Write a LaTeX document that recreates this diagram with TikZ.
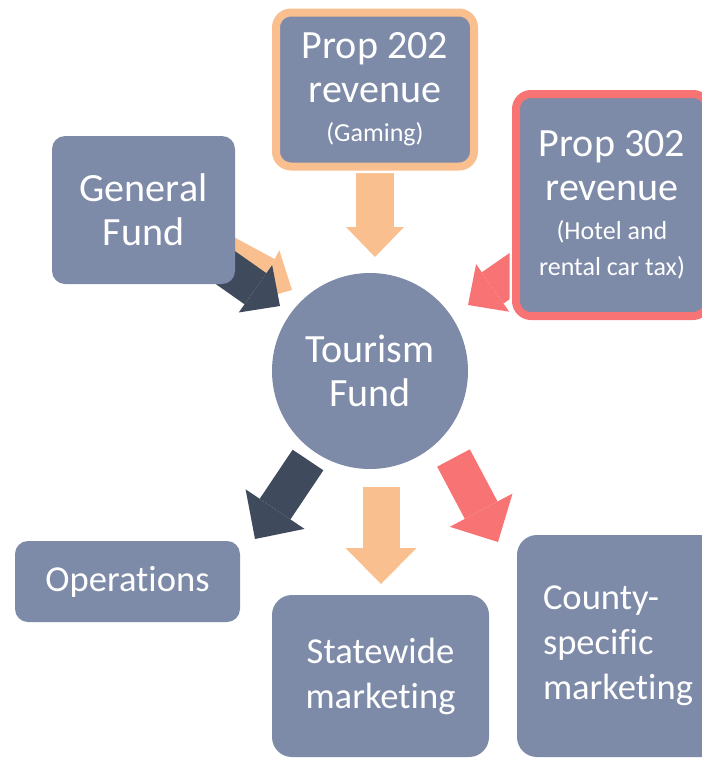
\documentclass[tikz,border=0pt]{standalone}
\usepackage{fontspec}
\setmainfont{Carlito}[Ligatures=NoCommon]
\usetikzlibrary{arrows.meta,backgrounds}

\definecolor{slate}{HTML}{7D8AA8}
\definecolor{darkslate}{HTML}{3F4A5C}
\definecolor{peach}{HTML}{F9BF8E}
\definecolor{coral}{HTML}{F87373}

\newcommand{\fundbig}{\fontsize{22.8}{25}\selectfont}
\newcommand{\fundmid}{\fontsize{20.8}{25.6}\selectfont}
\newcommand{\fundsmall}{\fontsize{14.8}{20.5}\selectfont}

\begin{document}
\begin{tikzpicture}[font=\fundbig,
  fundbox/.style={fill=slate,text=white,align=center,inner sep=0pt,rounded corners=#1},
  fundbox/.default=0.26cm,
  propbox/.style={fundbox=0.3cm,draw=#1,line width=0.16cm,preaction={draw=white,line width=0.26cm}},
  inflow/.style={draw=#1,line width=0.76cm,-{Triangle[width=1.16cm,length=0.6cm,line width=0pt]}},
  outflow/.style={draw=#1,line width=0.74cm,-{Triangle[width=1.42cm,length=0.72cm,line width=0pt]}}]
\useasboundingbox (0,0) rectangle (14.04,-15.18);
\clip (0,0) rectangle (14.04,-15.18);
% sources
\node[fundbox,minimum width=3.66cm,minimum height=2.96cm] (gen) at (2.87,-4.20) {General\\Fund};
\node[propbox=peach,minimum width=3.96cm,minimum height=3.08cm] (p202) at (7.50,-1.79) {Prop 202\\revenue\\[-2.8pt]{\fundsmall (Gaming)}};
\node[propbox=coral,minimum width=3.84cm,minimum height=4.44cm] (p302) at (12.24,-4.10) {Prop 302\\revenue\\[-2.8pt]{\fundsmall (Hotel and}\\[-4.5pt]{\fundsmall rental car tax)}};
\node[fundbox,circle,minimum size=3.92cm] (tf) at (7.40,-7.42) {Tourism\\Fund};
% uses
\node[fundbox,font=\fundmid,minimum width=4.5cm,minimum height=1.62cm] (ops) at (2.55,-11.63) {Operations};
\node[fundbox=0.4cm,font=\fundmid,minimum width=4.34cm,minimum height=3.24cm] (sw) at (7.61,-13.52) {Statewide\\marketing};
\node[fundbox=0.4cm,font=\fundmid,align=left,text width=3.3cm,inner xsep=0.52cm,minimum height=4.44cm] (cs) at (12.51,-12.92) {County-\\specific\\marketing};
% arrow ends
\coordinate (t202) at (7.50,-5.14);
\coordinate (tgen) at (5.60,-6.12);
\coordinate (tgen2) at (5.84,-5.80);
\coordinate (t302) at (9.36,-6.10);
\coordinate (hops) at (6.16,-9.20);
\coordinate (tops) at (5.10,-10.78);
\coordinate (hsw) at (7.62,-9.74);
\coordinate (tsw) at (7.62,-11.68);
\coordinate (hcs) at (9.07,-9.16);
\coordinate (tcs) at (9.96,-10.84);
\begin{scope}[on background layer]
\draw[inflow=peach] (p202.center) -- (t202);
\draw[inflow=peach] (gen.center) -- (tgen2);
\draw[inflow=darkslate] (gen.center) -- (tgen);
\draw[inflow=coral] (p302.center) -- (t302);
\draw[outflow=darkslate] (hops) -- (tops);
\draw[outflow=peach] (hsw) -- (tsw);
\draw[outflow=coral] (hcs) -- (tcs);
\end{scope}
\end{tikzpicture}
\end{document}
